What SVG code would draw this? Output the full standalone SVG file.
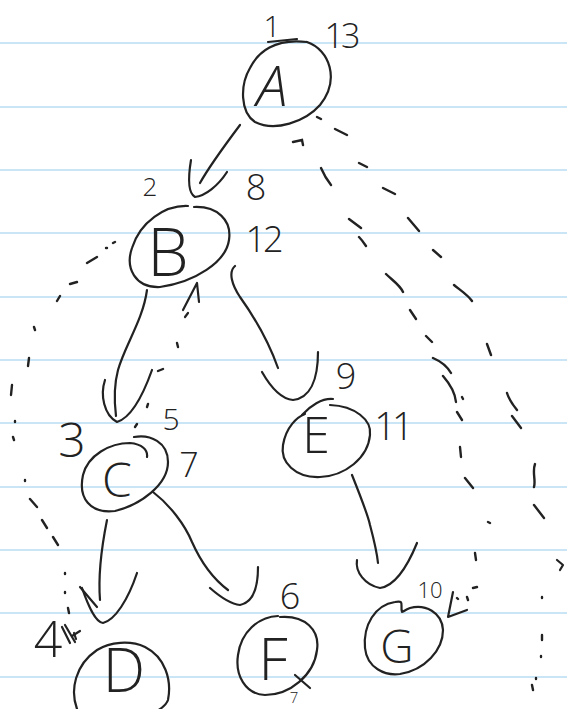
<svg xmlns="http://www.w3.org/2000/svg" width="567" height="709" viewBox="0 0 567 709">
  <style>
    .rule { stroke: #c9e5f6; stroke-width: 2; }
    .ink { fill: none; stroke: #222; stroke-width: 2.2; stroke-linecap: round; stroke-linejoin: round; }
    .dash { fill: none; stroke: #222; stroke-width: 2.4; stroke-linecap: round; }
    .letter { font-family: "Open Sans", "Liberation Sans", sans-serif; font-weight: 300; fill: #222; text-anchor: middle; }
    .num { font-family: "Open Sans", "Liberation Sans", sans-serif; font-weight: 300; fill: #222; text-anchor: middle; }
  </style>

  <!-- ruled paper -->
  <rect width="567" height="709" fill="#ffffff"/>
  <g id="paper">
    <line class="rule" x1="0" y1="43" x2="567" y2="43"/>
    <line class="rule" x1="0" y1="107" x2="567" y2="107"/>
    <line class="rule" x1="0" y1="170" x2="567" y2="170"/>
    <line class="rule" x1="0" y1="233" x2="567" y2="233"/>
    <line class="rule" x1="0" y1="297" x2="567" y2="297"/>
    <line class="rule" x1="0" y1="360" x2="567" y2="360"/>
    <line class="rule" x1="0" y1="423" x2="567" y2="423"/>
    <line class="rule" x1="0" y1="487" x2="567" y2="487"/>
    <line class="rule" x1="0" y1="550" x2="567" y2="550"/>
    <line class="rule" x1="0" y1="613" x2="567" y2="613"/>
    <line class="rule" x1="0" y1="677" x2="567" y2="677"/>
  </g>

  <!-- tree edges and traversal paths -->
  <g id="connectors">
    <!-- A to B -->
    <path class="ink" d="M240,125 C225,145 210,165 200,183"/>
    <path class="ink" d="M191,160 C188,178 188,193 195,197 C205,196 218,186 227,172"/>
    <!-- B to C -->
    <path class="ink" d="M147,290 C143,320 125,345 118,370 C114,385 114,400 116,416"/>
    <path class="ink" d="M105,380 C100,395 104,415 117,422 C130,418 142,398 152,370"/>
    <!-- B to E -->
    <path class="ink" d="M235,266 C228,272 232,285 240,297 C255,318 268,340 278,368"/>
    <path class="ink" d="M262,372 C270,386 281,399 293,400 C310,398 318,380 318,352"/>
    <!-- C to D -->
    <path class="ink" d="M107,520 C102,545 98,575 100,600"/>
    <path class="ink" d="M80,587 L97,607"/>
    <path class="ink" d="M82,588 C88,605 95,622 103,623 C115,620 128,600 137,573"/>
    <!-- C to F -->
    <path class="ink" d="M153,492 C170,505 185,525 192,542 C200,560 212,578 228,590"/>
    <path class="ink" d="M210,588 C218,595 230,604 240,605 C255,602 258,585 258,567"/>
    <!-- E to G -->
    <path class="ink" d="M352,475 C360,495 368,515 370,525 C374,540 377,553 378,563"/>
    <path class="ink" d="M357,560 C355,572 365,585 380,588 C395,586 408,565 417,543"/>

    <!-- return from C up to B (dotted) -->
    <path class="dash" d="M135,427 l2,-3 M147,407 l1,-3 M158,371 l5,-2 M177,343 l1,4"/>
    <path class="ink" d="M183,310 L197,283 L199,302 M185,317 l3,-4"/>

    <!-- dotted sweep from B down the left side to D -->
    <path class="dash" d="M113,243 l2,-1 M106,248 l1,0 M87,263 l10,-6 M70,284 l7,-2 M57,301 l3,-5 M34,327 l1,3 M29,358 l-1,8 M12,385 l-1,10 M15,421 l0,1 M13,437 l1,3 M25,480 l0,1 M30,499 l7,8 M42,520 l5,8 M53,537 l5,8 M65,573 l0,1 M65,592 l0,1 M68,608 l1,5"/>
    <path class="ink" d="M62,627 L70,643 M65,625 L75,642 M72,636 L80,631 M74,633 l2,6"/>

    <!-- inner dotted path from A down to G -->
    <path class="dash" d="M293,142 L302,140 L303,145 M321,168 C324,175 327,180 331,185 M349,219 l12,9 M359,237 C362,240 364,243 366,246 M386,274 C392,280 400,285 403,292 M410,310 l6,9 M426,336 l6,6 M433,358 C440,361 447,366 451,373 M443,376 C450,384 455,392 456,402 M462,397 l1,2 M457,412 l5,8 M460,447 l1,10 M465,478 l8,10 M488,522 l2,1 M475,553 l1,7 M473,588 l4,-1 M457,598 l1,1 M467,597 l1,3"/>
    <path class="ink" d="M453,592 L448,617 L467,610"/>

    <!-- outer dotted path on the right -->
    <path class="dash" d="M317,117 l4,2 M335,129 l12,6 M359,163 l8,4 M383,188 l12,6 M408,218 l11,13 M433,250 l8,7 M454,285 C460,290 468,295 472,301 M487,344 l4,11 M507,393 C509,400 513,405 517,410 M512,416 l9,12 M535,464 C532,472 536,480 534,487 M534,505 l10,13 M542,597 l0,1 M542,635 l0,5 M541,656 l0,1 M536,678 l0,1 M532,685 l1,5"/>
    <path class="ink" d="M557,560 L563,565 L560,570"/>
  </g>

  <g id="node-A">
    <path class="ink" d="M307,42 C330,50 340,80 320,105 C305,122 275,132 255,122 C240,112 240,85 250,68 C258,52 275,38 307,42"/>
    <path class="ink" d="M268,42 L297,39"/>
    <text class="letter" x="272" y="106" font-size="56" font-style="italic">A</text>
    <text class="num" x="272" y="37" font-size="30">1</text>
    <text class="num" x="341" y="48" font-size="34" letter-spacing="-3">13</text>
  </g>

  <g id="node-B">
    <path class="ink" d="M194,207 C217,206 232,220 229,240 C226,262 195,282 160,287 C135,288 125,268 132,248 C140,222 165,205 188,206"/>
    <text class="letter" x="168" y="276" font-size="66">B</text>
    <text class="num" x="150" y="196" font-size="26">2</text>
    <text class="num" x="256" y="200" font-size="36">8</text>
    <text class="num" x="263" y="252" font-size="36" letter-spacing="-3">12</text>
  </g>

  <g id="node-C">
    <path class="ink" d="M134,437 C150,434 168,442 168,462 C168,485 140,505 115,511 C90,514 78,498 83,475 C88,455 110,443 130,443 C142,444 148,450 147,457"/>
    <text class="letter" x="117" y="497" font-size="48">C</text>
    <text class="num" x="72" y="457" font-size="48">3</text>
    <text class="num" x="171" y="430" font-size="30">5</text>
    <text class="num" x="189" y="477" font-size="34">7</text>
  </g>

  <g id="node-D">
    <path class="ink" d="M77,709 C70,690 75,665 97,650 C110,642 130,640 145,647 C165,657 172,680 168,700 C166,706 160,709 157,711"/>
    <text class="letter" x="124" y="692" font-size="60">D</text>
    <text class="num" x="48" y="657" font-size="50">4</text>
  </g>

  <g id="node-E">
    <path class="ink" d="M330,405 C355,406 372,420 370,435 C368,458 345,476 320,477 C295,478 280,462 283,445 C286,427 297,417 305,414"/>
    <path class="ink" d="M302,415 C310,406 322,398 333,399"/>
    <text class="letter" x="316" y="453" font-size="50">E</text>
    <text class="num" x="346" y="389" font-size="36">9</text>
    <text class="num" x="392" y="440" font-size="38" letter-spacing="-4">11</text>
  </g>

  <g id="node-F">
    <path class="ink" d="M280,617 C305,615 320,630 317,650 C314,675 290,695 265,695 C245,694 235,675 238,655 C241,632 258,617 278,616"/>
    <path class="ink" d="M295,675 L310,688"/>
    <text class="letter" x="273" y="680" font-size="58">F</text>
    <text class="num" x="290" y="609" font-size="36">6</text>
    <text class="num" x="294" y="703" font-size="15">7</text>
  </g>

  <g id="node-G">
    <path class="ink" d="M402,612 C400,605 405,600 395,602 C375,605 363,625 365,648 C367,668 385,676 400,674 C425,670 443,650 443,630 C442,612 425,604 410,608 C405,610 403,612 402,612"/>
    <text class="letter" x="397" y="663" font-size="46">G</text>
    <text class="num" x="430" y="598" font-size="22">10</text>
  </g>
</svg>
